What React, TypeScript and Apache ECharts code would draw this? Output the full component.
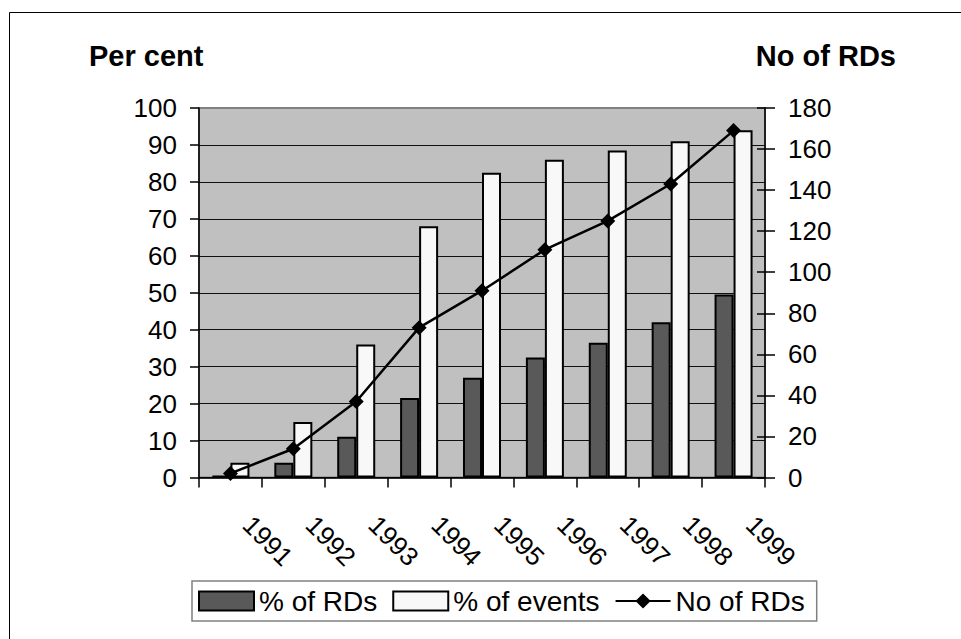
import React, { useEffect, useRef } from "react";
import * as echarts from "echarts";

const categories = ["1991", "1992", "1993", "1994", "1995", "1996", "1997", "1998", "1999"];
const pctRDs = [0.5, 4, 11, 21.5, 27, 32.5, 36.5, 42, 49.5];
const pctEvents = [4, 15, 36, 68, 82.5, 86, 88.5, 91, 94];
const noRDs = [2, 14, 37, 73, 91, 111, 125, 143, 169];

const leftMax = 100;
const leftInterval = 10;
const rightMax = 180;
const rightInterval = 20;

const FONT = "'Liberation Sans', Arial, sans-serif";

export default function App() {
  const ref = useRef<HTMLDivElement>(null);

  useEffect(() => {
    document.body.style.margin = "0";
    if (!ref.current) return;
    const chart = echarts.init(ref.current, undefined, { renderer: "svg" });
    const axisLabelStyle = { color: "#000", fontSize: 26, fontFamily: FONT };
    chart.setOption({
      animation: false,
      backgroundColor: "#fff",
      textStyle: { fontFamily: FONT },
      grid: {
        left: 199,
        right: 196,
        top: 108,
        bottom: 161.5,
        show: true,
        backgroundColor: "#c0c0c0",
        borderColor: "#808080",
        borderWidth: 2,
      },
      legend: {
        left: 192,
        top: 581,
        orient: "horizontal",
        itemWidth: 55,
        itemHeight: 19,
        itemGap: 15,
        padding: [6, 12, 6, 6],
        borderColor: "#808080",
        borderWidth: 1.5,
        textStyle: { color: "#000", fontSize: 28, fontFamily: FONT },
        data: [
          { name: "% of RDs", icon: "rect" },
          { name: "% of events", icon: "rect" },
          { name: "No of RDs" },
        ],
      },
      xAxis: {
        type: "category",
        data: categories,
        boundaryGap: true,
        axisLine: { lineStyle: { color: "#000", width: 1.5 } },
        axisTick: { show: true, length: 10, interval: 0, lineStyle: { color: "#000", width: 1.5 } },
        axisLabel: {
          ...axisLabelStyle,
          interval: 0,
          rotate: -45,
          margin: 26,
          padding: [0, 0, 0, 24],
        },
        splitLine: { show: false },
      },
      yAxis: [
        {
          type: "value",
          min: 0,
          max: leftMax,
          interval: leftInterval,
          position: "left",
          axisLine: { show: true, lineStyle: { color: "#000", width: 1.5 } },
          axisTick: { show: true, length: 9, lineStyle: { color: "#000", width: 1.5 } },
          axisLabel: { ...axisLabelStyle, margin: 22 },
          splitLine: { show: true, showMaxLine: false, lineStyle: { color: "#111", width: 1 } },
        },
        {
          type: "value",
          min: 0,
          max: rightMax,
          interval: rightInterval,
          position: "right",
          axisLine: { show: true, lineStyle: { color: "#000", width: 1.5 } },
          axisTick: { show: true, length: 10, lineStyle: { color: "#000", width: 1.5 } },
          axisLabel: { ...axisLabelStyle, margin: 23 },
          splitLine: { show: false },
        },
        {
          type: "value",
          min: 0,
          max: rightMax,
          interval: rightInterval,
          position: "right",
          axisLine: { show: false },
          axisTick: { show: true, inside: true, length: 8, lineStyle: { color: "#000", width: 1.5 } },
          axisLabel: { show: false },
          splitLine: { show: false },
        },
      ],
      series: [
        {
          name: "% of RDs",
          type: "bar",
          yAxisIndex: 0,
          data: pctRDs,
          barWidth: 19,
          barGap: "0%",
          itemStyle: { color: "#595959", borderColor: "#000", borderWidth: 2 },
        },
        {
          name: "% of events",
          type: "bar",
          yAxisIndex: 0,
          data: pctEvents,
          barWidth: 19,
          barGap: "0%",
          itemStyle: { color: "#f8f8f8", borderColor: "#000", borderWidth: 2 },
        },
        {
          name: "No of RDs",
          type: "line",
          yAxisIndex: 1,
          data: noRDs,
          symbol: "diamond",
          symbolSize: 15,
          lineStyle: { color: "#000", width: 2.5 },
          itemStyle: { color: "#000" },
        },
      ],
      graphic: [
        {
          type: "polyline",
          shape: { points: [[9.5, 639], [9.5, 12.5], [961, 12.5]] },
          style: { stroke: "#000", lineWidth: 1, fill: "none" },
        },
        {
          type: "text",
          style: {
            x: 89,
            y: 56,
            text: "Per cent",
            fill: "#000",
            font: `bold 29px ${FONT}`,
            align: "left",
            verticalAlign: "middle",
          },
        },
        {
          type: "text",
          style: {
            x: 896,
            y: 56,
            text: "No of RDs",
            fill: "#000",
            font: `bold 29px ${FONT}`,
            align: "right",
            verticalAlign: "middle",
          },
        },
      ],
    });
    return () => chart.dispose();
  }, []);

  return <div ref={ref} style={{ width: 961, height: 639 }} />;
}
